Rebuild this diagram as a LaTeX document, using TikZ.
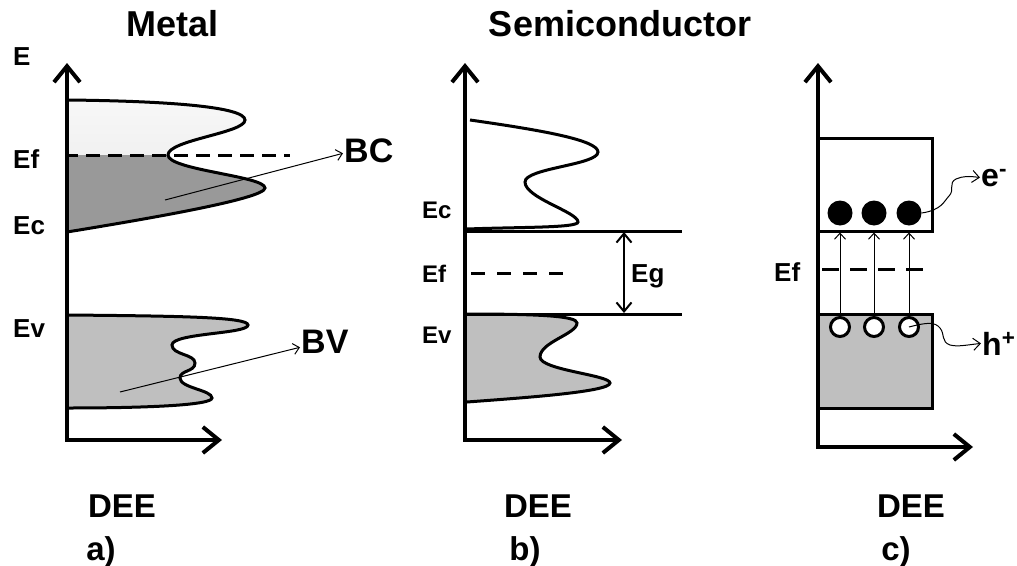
\documentclass[tikz,border=0pt]{standalone}
\usepackage{fontspec}
\setmainfont{Liberation Sans}
\usetikzlibrary{arrows.meta}
\begin{document}
\begin{tikzpicture}[x=1pt,y=-1pt,
  axis/.style={line width=4pt,-{Straight Barb[length=16pt,width=26pt]}},
  bandline/.style={line width=3pt},
  lvl/.style={line width=3pt},
  thinarr/.style={line width=1pt,-{Straight Barb[length=6pt,width=11pt]}},
  lbl/.style={font=\fontsize{26}{26}\selectfont\bfseries,inner sep=1pt,anchor=base west},
  lblb/.style={font=\fontsize{24}{24}\selectfont\bfseries,inner sep=1pt,anchor=base west},
  big/.style={font=\fontsize{34}{34}\selectfont\bfseries,inner sep=1pt,anchor=base west},
  title/.style={font=\fontsize{36}{36}\selectfont\bfseries,inner sep=0pt,anchor=base},
  foot/.style={font=\fontsize{33}{33}\selectfont\bfseries,inner sep=0pt,anchor=base},
  dot/.style={circle,fill=black,inner sep=0pt,minimum size=25pt},
  hole/.style={circle,draw=black,fill=white,line width=3pt,inner sep=0pt,minimum size=19pt}
]
\useasboundingbox (0,0) rectangle (1017,565);
\fill[white] (0,0) rectangle (1017,565);

% ---------- titles and footers
\node[title] (tmetal) at (173,36) {Metal};
\node[title] (tsemi) at (620,36) {Semiconductor};
\node[foot] (deea) at (122,517) {DEE};
\node[foot] (deeb) at (538,517) {DEE};
\node[foot] (deec) at (911,517) {DEE};
\node[foot] (pa) at (101,560) {a)};
\node[foot] (pb) at (525,560) {b)};
\node[foot] (pc) at (896,560) {c)};

% ================= panel a
\def\bandAup{(67,100) .. controls (170,101) and (245,107) .. (245,120)
  .. controls (245,133) and (168,140) .. (168,155)
  .. controls (168,170) and (265,176) .. (265,188)
  .. controls (265,199) and (140,220) .. (67,232)}
\begin{scope}
  \clip (0,0) rectangle (1017,155);
  \shade[top color=white!97!black,bottom color=white!91!black] \bandAup -- cycle;
\end{scope}
\begin{scope}
  \clip (0,155) rectangle (1017,565);
  \fill[black!40] \bandAup -- cycle;
\end{scope}
\draw[bandline] \bandAup;
\def\bandAlow{(67,315) .. controls (180,316) and (248,317) .. (248,325)
  .. controls (248,334) and (172,333) .. (172,345)
  .. controls (172,355) and (195,354) .. (195,363)
  .. controls (195,372) and (180,370) .. (180,378)
  .. controls (180,388) and (212,390) .. (212,398)
  .. controls (212,405) and (150,408) .. (67,408)}
\fill[black!25] \bandAlow -- cycle;
\draw[bandline] \bandAlow;
\draw[lvl,dash pattern=on 14pt off 8pt,dash phase=3pt] (67,155) -- (290,155);
\node[big] (BC) at (343,162) {BC};
\node[big] (BV) at (300,353) {BV};
\coordinate (bcs) at (165,200);
\coordinate (bvs) at (120,392);
\draw[thinarr] (bcs) -- ([yshift=-3pt]BC.west);
\draw[thinarr] (bvs) -- ([yshift=-6pt]BV.west);
\node[lbl] (Ea) at (12,65) {E};
\node[lbl] (Efa) at (12,168) {Ef};
\node[lbl] (Eca) at (12,234) {Ec};
\node[lbl] (Eva) at (12,337) {Ev};
\coordinate (oa) at (67,440);
\draw[axis] (oa) -- (67,63);
\draw[axis] ([xshift=-2pt]oa) -- (222,440);

% ================= panel b
\draw[bandline] (470,120) .. controls (540,130) and (598,140) .. (598,152)
  .. controls (598,165) and (525,168) .. (525,182)
  .. controls (525,198) and (578,212) .. (578,222)
  .. controls (578,228) and (520,227) .. (467,229);
\def\bandBlow{(465,314) .. controls (540,314) and (577,316) .. (577,323)
  .. controls (577,334) and (540,342) .. (540,357)
  .. controls (540,370) and (610,375) .. (610,383)
  .. controls (610,392) and (520,398) .. (467,402)}
\fill[black!25] \bandBlow -- cycle;
\draw[bandline] \bandBlow;
\coordinate (ecl) at (465,231);
\coordinate (ecr) at (682,231);
\coordinate (evl) at (465,314);
\coordinate (evr) at (682,314);
\draw[lvl] (ecl) -- (ecr);
\draw[lvl] (evl) -- (evr);
\draw[lvl,dash pattern=on 14pt off 12pt,dash phase=-6pt] (465,273) -- (572,273);
\coordinate (ga) at (624,232);
\coordinate (gb) at (624,313);
\draw[line width=2pt,{Straight Barb[length=9pt,width=15pt]}-{Straight Barb[length=9pt,width=15pt]}] (ga) -- (gb);
\node[lbl] (Eg) at (630,282) {Eg};
\node[lblb] (Ecb) at (421,218) {Ec};
\node[lblb] (Efb) at (421,282) {Ef};
\node[lblb] (Evb) at (421,343) {Ev};
\coordinate (ob) at (465,440);
\draw[axis] (ob) -- (465,63);
\draw[axis] ([xshift=-2pt]ob) -- (622,440);

% ================= panel c
\node[draw,line width=3pt,fill=white,minimum width=114pt,minimum height=93pt,inner sep=0pt] (cb) at (875,184.5) {};
\node[draw,line width=3pt,fill=black!25,minimum width=114pt,minimum height=94pt,inner sep=0pt] (vb) at (875,361) {};
\draw[lvl,dash pattern=on 17pt off 11pt,dash phase=-4pt] (818,269) -- (927,269);
\foreach \i/\x in {1/840,2/874,3/909}{
  \node[dot] (e\i) at (\x,213) {};
  \node[hole] (h\i) at (\x,327) {};
  \draw[thinarr] (h\i.north) -- (h\i |- cb.south);
}
\node[lbl,font=\fontsize{32}{32}\selectfont\bfseries] (em) at (980,186) {e\textsuperscript{-}};
\node[lbl,font=\fontsize{32}{32}\selectfont\bfseries] (hp) at (981,355) {h\textsuperscript{+}};
\draw[line width=1pt,-{Straight Barb[length=7pt,width=12pt]}] (e3.east)
  .. controls (942,210) and (944,201) .. (949,196)
  .. controls (955,190) and (948,183) .. (956,179)
  .. controls (963,176) and (969,176) .. (em.west);
\draw[line width=1pt,-{Straight Barb[length=7pt,width=12pt]}] (h3.center)
  .. controls (928,322) and (935,322) .. (940,328)
  .. controls (945,334) and (941,342) .. (950,345)
  .. controls (958,347) and (966,345) .. (hp.west);
\node[lbl] (Efc) at (773,281) {Ef};
\coordinate (oc) at (818,447);
\draw[axis] (oc) -- (818,63);
\draw[axis] ([xshift=-2pt]oc) -- (973,447);
\end{tikzpicture}
\end{document}
